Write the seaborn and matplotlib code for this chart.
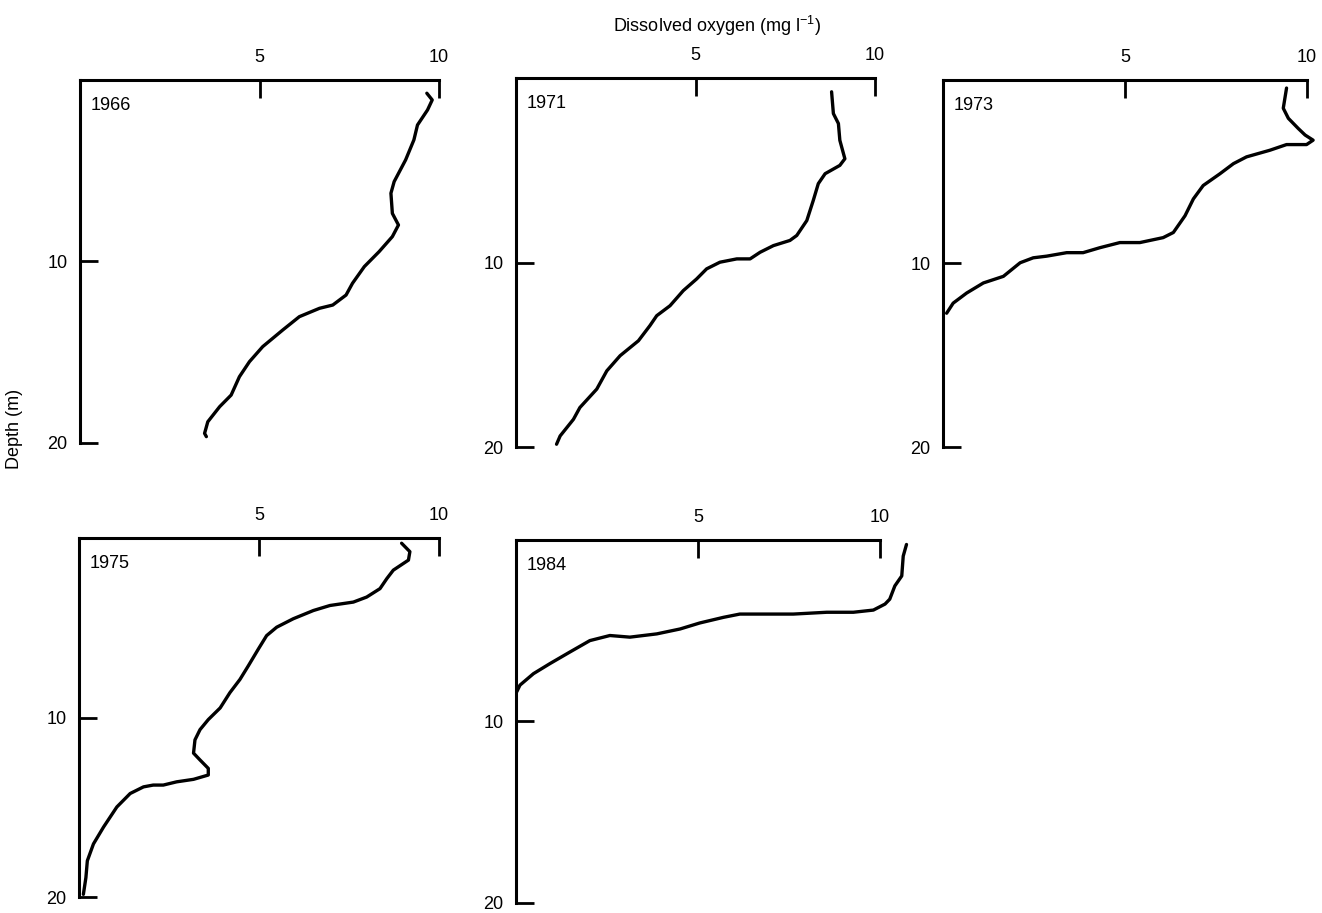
import matplotlib
matplotlib.use("Agg")
import matplotlib.pyplot as plt
import numpy as np
import pandas as pd
import seaborn as sns

# dissolved oxygen (mg/l) vs depth (m)
years = ["1966", "1971", "1973", "1975", "1984"]

oxy_1966 = [9.66, 9.81, 9.68, 9.40, 9.30, 9.07, 8.75, 8.66, 8.70, 8.87, 8.70, 8.33, 7.92,
            7.59, 7.41, 7.04, 6.67, 6.11, 5.65, 5.09, 4.72, 4.44, 4.21, 3.89, 3.56, 3.47, 3.52]
depth_1966 = [0.73, 1.10, 1.65, 2.48, 3.30, 4.40, 5.60, 6.24, 7.35, 7.99, 8.63, 9.46, 10.28,
              11.20, 11.85, 12.40, 12.58, 13.04, 13.77, 14.69, 15.52, 16.35, 17.36, 18.00,
              18.83, 19.47, 19.65]

oxy_1971 = [8.79, 8.84, 8.98, 9.02, 9.16, 9.02, 8.61, 8.42, 8.28, 8.10, 7.82, 7.63, 7.17,
            6.80, 6.52, 6.15, 5.68, 5.31, 5.03, 4.66, 4.29, 3.92, 3.73, 3.41, 2.90, 2.53,
            2.25, 1.78, 1.60, 1.23, 1.13]
depth_1971 = [0.74, 1.92, 2.46, 3.37, 4.37, 4.73, 5.18, 5.72, 6.63, 7.72, 8.53, 8.80, 9.08,
              9.44, 9.80, 9.80, 9.98, 10.34, 10.89, 11.52, 12.34, 12.88, 13.42, 14.24, 15.05,
              15.87, 16.86, 17.86, 18.50, 19.40, 19.85]

oxy_1973 = [9.44, 9.35, 9.49, 9.76, 9.95, 10.17, 9.99, 9.44, 8.98, 8.34, 7.98, 7.61, 7.15,
            6.88, 6.65, 6.33, 6.05, 5.41, 4.86, 4.31, 3.85, 3.40, 2.85, 2.48, 2.12, 1.66,
            1.11, 0.65, 0.28, 0.10]
depth_1973 = [0.44, 1.54, 2.09, 2.64, 3.00, 3.28, 3.52, 3.52, 3.83, 4.19, 4.56, 5.11, 5.75,
              6.48, 7.40, 8.31, 8.59, 8.86, 8.86, 9.14, 9.41, 9.41, 9.60, 9.69, 9.96, 10.70,
              11.06, 11.61, 12.16, 12.71]

oxy_1975 = [8.96, 9.19, 9.15, 8.73, 8.55, 8.36, 7.99, 7.62, 6.97, 6.51, 5.95, 5.49, 5.21,
            4.98, 4.70, 4.47, 4.19, 3.92, 3.59, 3.36, 3.22, 3.18, 3.36, 3.59, 3.59, 3.18,
            2.71, 2.34, 2.06, 1.79, 1.42, 1.05, 0.68, 0.40, 0.23, 0.19, 0.12]
depth_1975 = [0.28, 0.75, 1.22, 1.78, 2.25, 2.81, 3.28, 3.56, 3.75, 4.03, 4.49, 4.96, 5.43,
              6.18, 7.12, 7.87, 8.61, 9.46, 10.11, 10.67, 11.24, 11.98, 12.36, 12.83, 13.20,
              13.44, 13.58, 13.76, 13.76, 13.86, 14.23, 14.98, 16.10, 17.04, 17.98, 18.92,
              19.85]

oxy_1984 = [10.73, 10.64, 10.60, 10.41, 10.27, 10.14, 9.82, 9.27, 8.54, 7.62, 6.70, 6.15,
            5.70, 5.05, 4.51, 3.87, 3.13, 2.58, 2.03, 1.48, 0.93, 0.48, 0.11, 0.02]
depth_1984 = [0.27, 0.91, 2.00, 2.55, 3.28, 3.55, 3.88, 4.00, 4.00, 4.10, 4.10, 4.10, 4.28,
              4.59, 4.92, 5.19, 5.37, 5.28, 5.56, 6.19, 6.83, 7.38, 8.01, 8.38]

x_ticks = [5, 10]
y_ticks = [10, 20]

profiles = {
    "1966": (oxy_1966, depth_1966),
    "1971": (oxy_1971, depth_1971),
    "1973": (oxy_1973, depth_1973),
    "1975": (oxy_1975, depth_1975),
    "1984": (oxy_1984, depth_1984),
}

sns.set_style("ticks")
plt.rcParams["font.family"] = ["Liberation Sans", "DejaVu Sans"]
plt.rcParams["mathtext.default"] = "regular"
plt.rcParams["text.color"] = "black"
plt.rcParams["xtick.labelcolor"] = "black"
plt.rcParams["ytick.labelcolor"] = "black"

fig = plt.figure(figsize=(13.22, 9.13), dpi=100)

# panel boxes in figure fractions: left, bottom, width, height
boxes = {
    "1966": [0.0605, 0.5148, 0.2716, 0.3976],
    "1971": [0.3903, 0.5104, 0.2716, 0.4040],
    "1973": [0.7133, 0.5104, 0.2753, 0.4020],
    "1975": [0.0598, 0.0175, 0.2723, 0.3930],
    "1984": [0.3903, 0.0110, 0.2753, 0.3980],
}

for year in years:
    oxy, depth = profiles[year]
    df = pd.DataFrame({"oxygen": oxy, "depth": depth})
    ax = fig.add_axes(boxes[year])
    sns.lineplot(data=df, x="oxygen", y="depth", sort=False, estimator=None,
                 color="black", lw=2.4, ax=ax)
    for ln in ax.lines:
        ln.set_clip_on(False)
        ln.set_solid_capstyle("round")
        ln.set_solid_joinstyle("round")
    ax.set_xlim(0, 10)
    ax.set_ylim(20, 0)
    ax.xaxis.tick_top()
    ax.set_xticks(x_ticks)
    ax.set_yticks(y_ticks)
    ax.tick_params(axis="both", direction="in", length=13, width=2,
                   labelsize=13, color="black", labelcolor="black", pad=9)
    ax.tick_params(axis="x", pad=10)
    for side in ("right", "bottom"):
        ax.spines[side].set_visible(False)
    for side in ("left", "top"):
        ax.spines[side].set_linewidth(2.2)
        ax.spines[side].set_color("black")
    ax.set_xlabel("")
    ax.set_ylabel("")
    ax.text(0.03, 0.93, year, transform=ax.transAxes, ha="left", va="center",
            fontsize=13, color="black")

fig.text(0.542, 0.972, "Dissolved oxygen (mg l$^{-1}$)", ha="center", va="center",
         fontsize=13, color="black")
fig.text(0.011, 0.53, "Depth (m)", rotation=90, ha="center", va="center",
         fontsize=13, color="black")

fig.savefig("out.png", dpi=100)
